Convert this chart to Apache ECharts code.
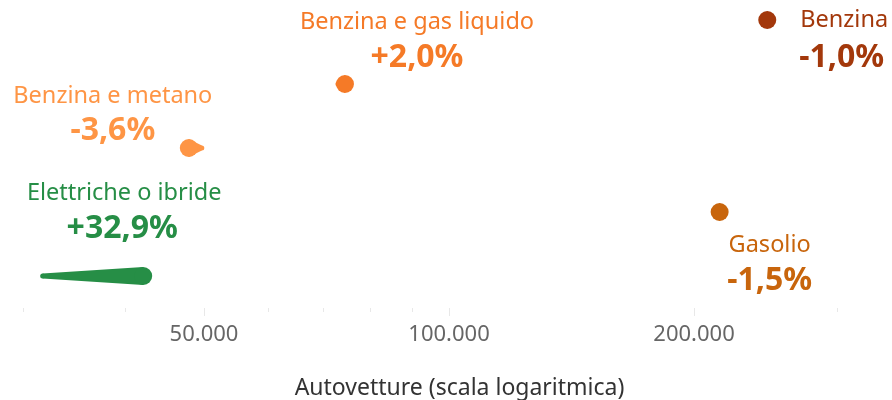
<!DOCTYPE html>
<html>
<head>
<meta charset="utf-8">
<script src="https://cdn.jsdelivr.net/npm/echarts@6/dist/echarts.min.js"></script>
<style>
  html, body { margin: 0; padding: 0; background: #fff; }
  #chart { width: 892px; height: 400px; }
</style>
</head>
<body>
<div id="chart"></div>
<script>
// alimentazione, dall'alto verso il basso
var categories = ['Benzina', 'Benzina e gas liquido', 'Benzina e metano', 'Gasolio', 'Elettriche o ibride'];
// autovetture, valore attuale
var currentValues = [246000, 74500, 47900, 215000, 42100];
// variazione percentuale rispetto al periodo precedente
var changePct = [-1.0, 2.0, -3.6, -1.5, 32.9];
var colors = ['#a3380b', '#f57a27', '#fe9545', '#c8650c', '#268e46'];

var majorTicks = [50000, 100000, 200000];
var minorTicks = [30000, 40000, 60000, 70000, 80000, 90000, 300000];
var axisMin = 28077, axisMax = 350100;

// posizione delle etichette rispetto al pallino: [dx, dy] nome, [dx, dy] valore, allineamento
var labelLayout = [
    { name: [33, 0], value: [32, 38], align: 'left' },
    { name: [72, -62], value: [72, -26], align: 'center' },
    { name: [-76, -52], value: [-76, -17], align: 'center' },
    { name: [50, 33], value: [50, 69], align: 'center' },
    { name: [-19, -83], value: [-21, -47], align: 'center' }
];

var FONT = '"Noto Sans", sans-serif';
var lg = function (v) { return Math.log10(v); };

function fmtNum(v) {
    return Math.round(v).toString().replace(/\B(?=(\d{3})+(?!\d))/g, '.');
}
function fmtPct(p) {
    return (p > 0 ? '+' : '') + p.toFixed(1).replace('.', ',') + '%';
}

var seriesData = categories.map(function (c, i) {
    var prev = currentValues[i] / (1 + changePct[i] / 100);
    return [lg(currentValues[i]), lg(prev), i];
});

var myChart = echarts.init(document.getElementById('chart'));

myChart.setOption({
    animation: false,
    grid: { left: 0, right: 0, top: -12, height: 320, outerBoundsMode: 'none' },
    xAxis: [{
        type: 'value',
        min: lg(axisMin),
        max: lg(axisMax),
        axisLine: { show: false },
        splitLine: { show: false },
        axisTick: {
            show: true,
            length: 8,
            customValues: majorTicks.map(lg),
            lineStyle: { color: '#e8e8e8' }
        },
        axisLabel: {
            customValues: majorTicks.map(lg),
            color: '#666',
            fontSize: 22,
            fontFamily: FONT,
            margin: 16,
            formatter: function (v) { return fmtNum(Math.pow(10, v)); }
        },
        name: 'Autovetture (scala logaritmica)',
        nameLocation: 'middle',
        nameGap: 69,
        nameMoveOverlap: false,
        nameTextStyle: { color: '#333', fontSize: 23, fontFamily: FONT, padding: [0, 0, 0, 27] }
    }, {
        type: 'value',
        position: 'bottom',
        min: lg(axisMin),
        max: lg(axisMax),
        axisLine: { show: false },
        splitLine: { show: false },
        axisTick: {
            show: true,
            length: 4,
            customValues: minorTicks.map(lg),
            lineStyle: { color: '#e8e8e8' }
        },
        axisLabel: { show: false }
    }],
    yAxis: {
        type: 'category',
        data: categories,
        inverse: true,
        show: false
    },
    series: [{
        type: 'custom',
        xAxisIndex: 0,
        data: seriesData,
        renderItem: function (params, api) {
            var i = api.value(2);
            var head = api.coord([api.value(0), i]);
            var tail = api.coord([api.value(1), i]);
            var c = colors[i];
            var lay = labelLayout[i];
            var r = 9, rt = 2.5;
            var children = [];
            if (Math.abs(head[0] - tail[0]) > 1) {
                children.push({
                    type: 'polygon',
                    shape: { points: [[tail[0], tail[1] - rt], [head[0], head[1] - r], [head[0], head[1] + r], [tail[0], tail[1] + rt]] },
                    style: { fill: c }
                });
                children.push({ type: 'circle', shape: { cx: tail[0], cy: tail[1], r: rt }, style: { fill: c } });
            }
            children.push({ type: 'circle', shape: { cx: head[0], cy: head[1], r: r }, style: { fill: c } });
            children.push({
                type: 'text',
                style: {
                    text: categories[i],
                    x: head[0] + lay.name[0], y: head[1] + lay.name[1],
                    fill: c, fontSize: 23.5, fontFamily: FONT,
                    align: lay.align, verticalAlign: 'middle'
                }
            });
            children.push({
                type: 'text',
                style: {
                    text: fmtPct(changePct[i]),
                    x: head[0] + lay.value[0], y: head[1] + lay.value[1],
                    fill: c, fontSize: 32, fontWeight: 'bold', fontFamily: FONT,
                    align: lay.align, verticalAlign: 'middle'
                }
            });
            return { type: 'group', children: children };
        }
    }]
});
</script>
</body>
</html>
